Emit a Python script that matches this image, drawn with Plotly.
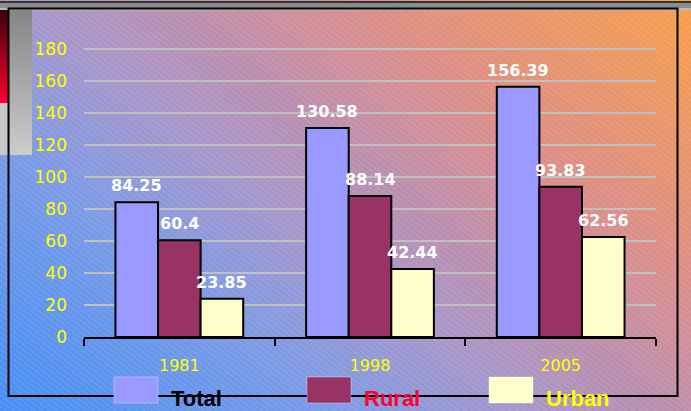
import base64
import plotly.graph_objects as go

# ---- data ----
years = ["1981", "1998", "2005"]
total = [84.25, 130.58, 156.39]
rural = [60.4, 88.14, 93.83]
urban = [23.85, 42.44, 62.56]
series_names = ["Total", "Rural", "Urban"]
series_values = [total, rural, urban]
bar_colors = ["#9999ff", "#993366", "#ffffcc"]
legend_text_colors = ["#000000", "#ff0033", "#ffff00"]
y_ticks = [0, 20, 40, 60, 80, 100, 120, 140, 160, 180]

# ---- layout geometry (pixels) ----
WIDTH, HEIGHT = 691, 411
L, R, T, B = 84, 656, 41, 337
PW, PH = R - L, B - T
BARGAP = 0.33


def px_x(p):
    return (p - L) / PW


def px_y(p):
    return (B - p) / PH


# ---- decorative background (gradient, hatching, frame) ----
svg = f"""<svg xmlns="http://www.w3.org/2000/svg" width="{WIDTH}" height="{HEIGHT}" viewBox="0 0 {WIDTH} {HEIGHT}" preserveAspectRatio="none">
<defs>
<linearGradient id="bg" gradientUnits="userSpaceOnUse" x1="0" y1="411" x2="477.2" y2="-174.3">
<stop offset="0" stop-color="#4690f4"/>
<stop offset="0.28" stop-color="#7c9be6"/>
<stop offset="0.44" stop-color="#a697ca"/>
<stop offset="0.56" stop-color="#bb8fae"/>
<stop offset="0.66" stop-color="#d28f98"/>
<stop offset="0.73" stop-color="#dd8f84"/>
<stop offset="1" stop-color="#f89f4a"/>
</linearGradient>
<pattern id="hatch" patternUnits="userSpaceOnUse" width="6" height="4.5" patternTransform="rotate(38)">
<line x1="0" y1="0.5" x2="6" y2="0.5" stroke="#ffffff" stroke-opacity="0.18" stroke-width="1" stroke-dasharray="1.2 1"/>
</pattern>
<linearGradient id="red" x1="0" y1="0" x2="0" y2="1">
<stop offset="0" stop-color="#3a0008"/>
<stop offset="1" stop-color="#ff0030"/>
</linearGradient>
<linearGradient id="gray" x1="0" y1="0" x2="0" y2="1">
<stop offset="0" stop-color="#858585"/>
<stop offset="1" stop-color="#cccccc"/>
</linearGradient>
</defs>
<rect x="0" y="0" width="{WIDTH}" height="{HEIGHT}" fill="url(#bg)"/>
<rect x="0" y="0" width="{WIDTH}" height="{HEIGHT}" fill="url(#hatch)"/>
<rect x="0" y="1" width="{WIDTH}" height="2" fill="#333333"/>
<rect x="0" y="3" width="{WIDTH}" height="5" fill="#8c8c8c"/>
<rect x="0" y="8" width="{WIDTH}" height="2.5" fill="#b8b8b8"/>
<rect x="0" y="10" width="8" height="93" fill="url(#red)"/>
<rect x="0" y="103" width="8" height="52" fill="#c8c8c8"/>
<rect x="9.5" y="10" width="22.5" height="145" fill="url(#gray)"/>
<rect x="8.5" y="8.5" width="669" height="387.5" fill="none" stroke="#000000" stroke-width="2"/>
</svg>"""
svg_src = "data:image/svg+xml;base64," + base64.b64encode(svg.encode()).decode()

fig = go.Figure()

for name, vals, col in zip(series_names, series_values, bar_colors):
    fig.add_trace(go.Bar(
        x=years, y=vals, name=name,
        marker=dict(color=col, line=dict(color="#000000", width=2)),
        showlegend=False,
    ))

# data labels (category index positions, offset per series inside the group)
cat_w = PW / len(years)
bar_w = cat_w * (1 - BARGAP) / len(series_names)
annotations = []
for i, vals in enumerate(series_values):
    for j, v in enumerate(vals):
        annotations.append(dict(
            x=j, y=v, xref="x", yref="y",
            text=f"<b>{v}</b>", showarrow=False,
            xshift=(i - 1) * bar_w, yshift=16.5, yanchor="middle",
            font=dict(family="DejaVu Sans", size=16, color="#ffffff"),
        ))

# custom legend
legend_swatch_x = [114, 307, 489]
shapes = []
for sx, col, name, tcol in zip(legend_swatch_x, bar_colors, series_names, legend_text_colors):
    shapes.append(dict(
        type="rect", xref="paper", yref="paper",
        x0=px_x(sx), x1=px_x(sx + 44), y0=px_y(403), y1=px_y(377),
        fillcolor=col, line=dict(color="rgba(255,255,255,0.35)", width=1),
    ))
    annotations.append(dict(
        x=px_x(sx + 55), y=px_y(398.5), xref="paper", yref="paper",
        xanchor="left", yanchor="middle", showarrow=False,
        text=f"<b>{name}</b>",
        font=dict(family="Liberation Sans, Arial", size=22, color=tcol),
    ))

fig.update_layout(
    width=WIDTH, height=HEIGHT,
    margin=dict(l=L, r=WIDTH - R, t=T, b=HEIGHT - B, pad=0),
    paper_bgcolor="#b898c0",
    plot_bgcolor="rgba(0,0,0,0)",
    barmode="group", bargap=BARGAP, bargroupgap=0,
    showlegend=False,
    images=[dict(
        source=svg_src, xref="paper", yref="paper",
        x=px_x(0), y=px_y(0), sizex=WIDTH / PW, sizey=HEIGHT / PH,
        xanchor="left", yanchor="top", sizing="stretch", layer="below",
    )],
    shapes=shapes,
    annotations=annotations,
    xaxis=dict(
        type="category", range=[-0.5, 2.5],
        showline=True, linecolor="#000000", linewidth=2,
        ticks="outside", tickson="boundaries", ticklen=7, tickwidth=2, tickcolor="#000000",
        tickfont=dict(family="DejaVu Sans", size=16, color="#ffff00"),
        ticklabelstandoff=13,
        showgrid=False, zeroline=False,
    ),
    yaxis=dict(
        range=[0, 185], tickvals=y_ticks, ticktext=[str(t) for t in y_ticks],
        showgrid=True, gridcolor="#c0c0c0", gridwidth=2,
        zeroline=False, showline=False, ticks="",
        tickfont=dict(family="DejaVu Sans", size=17, color="#ffff00"),
        ticklabelstandoff=16,
    ),
)

fig.write_html(
    "out.html",
    config={"displayModeBar": False},
    post_script="document.body.style.margin='0';document.body.style.overflow='hidden';",
)
